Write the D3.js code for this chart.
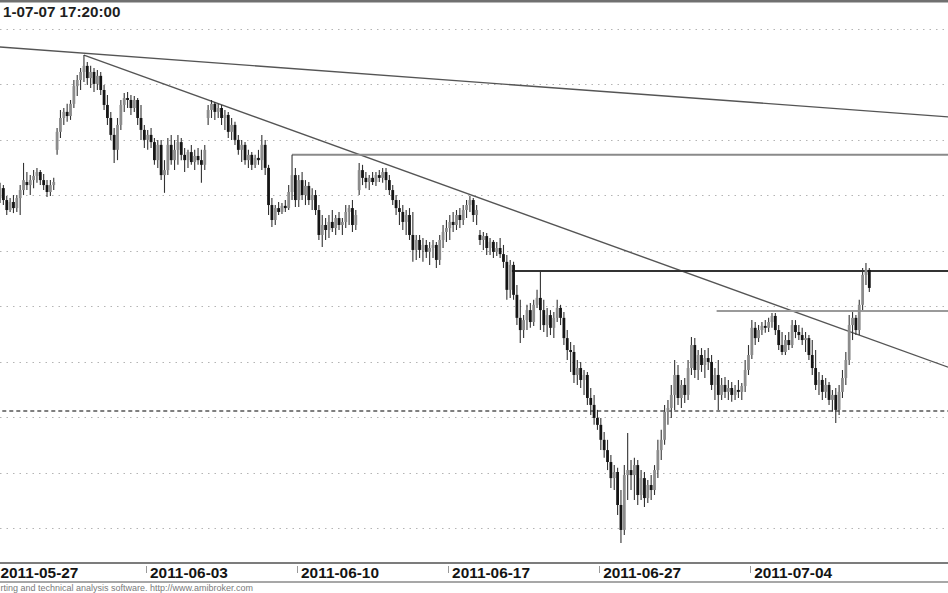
<!DOCTYPE html>
<html><head><meta charset="utf-8">
<script src="https://cdn.jsdelivr.net/npm/d3@7"></script>
<style>body{margin:0;background:#fff}svg{display:block;font-family:"Liberation Sans",Arial,sans-serif}</style>
</head><body>
<svg id="chart" width="948" height="593"></svg>
<script>
// ---- data ----
const title = "1-07-07 17:20:00";   // visible part of the (cropped) chart title
const footer = "rting and technical analysis software. http://www.amibroker.com"; // visible part of footer
const sessions = ["2011-05-27","2011-05-30","2011-05-31","2011-06-01","2011-06-02","2011-06-03","2011-06-06","2011-06-07","2011-06-08","2011-06-09","2011-06-10","2011-06-13","2011-06-14","2011-06-15","2011-06-16","2011-06-17","2011-06-20","2011-06-21","2011-06-22","2011-06-24","2011-06-27","2011-06-28","2011-06-29","2011-06-30","2011-07-01","2011-07-04","2011-07-05","2011-07-06","2011-07-07"];
const barsPerSession = 9;
const tickSessions = [0,5,10,15,20,25];
const tickLabels = ["2011-05-27","2011-06-03","2011-06-10","2011-06-17","2011-06-27","2011-07-04"];
const gridPrices = [2700,2720,2740,2760,2780,2800,2820,2840,2860,2880];
// [open, high, low, close] per bar
const candles = [
[2820.1,2822.6,2816.5,2819.0],[2819.0,2824.5,2817.2,2822.6],[2822.6,2823.7,2816.5,2818.3],[2818.3,2819.8,2812.9,2814.7],[2814.7,2819.0,2814.0,2817.6],[2817.6,2820.1,2813.6,2815.4],[2815.4,2820.1,2814.0,2819.0],[2819.0,2823.7,2812.9,2821.9],[2821.9,2831.7,2820.1,2825.5],
[2824.8,2828.4,2821.9,2823.7],[2823.7,2827.3,2820.1,2825.5],[2825.5,2829.1,2822.6,2827.0],[2827.0,2829.9,2824.5,2828.4],[2828.4,2829.1,2823.7,2825.5],[2825.5,2827.7,2821.9,2823.7],[2823.7,2825.5,2819.4,2821.2],[2821.2,2825.5,2819.8,2823.7],[2823.7,2826.3,2821.9,2824.8],
[2836.4,2844.3,2834.6,2842.9],[2842.9,2850.8,2840.7,2847.9],[2847.9,2851.5,2845.4,2850.1],[2850.1,2853.0,2846.5,2848.6],[2848.6,2854.4,2847.2,2853.0],[2853.0,2861.6,2851.5,2859.4],[2859.4,2863.4,2855.8,2861.6],[2861.6,2865.9,2858.0,2864.5],[2864.5,2870.6,2860.9,2866.7],
[2866.7,2868.1,2859.8,2862.3],[2862.3,2866.7,2858.7,2864.5],[2864.5,2865.9,2857.3,2860.2],[2860.2,2865.2,2858.0,2863.1],[2863.1,2864.5,2856.2,2858.0],[2858.0,2859.8,2850.8,2852.6],[2852.6,2856.2,2845.4,2847.9],[2847.9,2850.1,2840.0,2841.8],[2841.8,2844.3,2831.7,2836.4],
[2836.4,2847.9,2832.7,2845.4],[2845.4,2854.4,2843.6,2852.6],[2852.6,2856.9,2850.1,2855.1],[2855.1,2857.3,2851.5,2854.4],[2854.4,2856.2,2849.0,2851.5],[2851.5,2855.8,2850.1,2854.4],[2854.4,2855.1,2845.4,2847.9],[2847.9,2852.6,2840.0,2843.6],[2843.6,2845.4,2837.1,2840.0],
[2840.0,2843.6,2836.4,2841.8],[2841.8,2844.3,2837.1,2839.2],[2839.2,2840.7,2831.0,2832.7],[2832.7,2840.0,2829.9,2838.2],[2838.2,2840.0,2825.5,2827.3],[2827.3,2832.7,2820.9,2829.1],[2829.1,2840.7,2827.3,2838.2],[2838.2,2841.8,2831.0,2832.7],[2832.7,2840.0,2829.1,2836.4],
[2836.4,2841.8,2831.0,2839.2],[2839.2,2840.7,2832.7,2834.6],[2834.6,2837.1,2828.4,2832.7],[2832.7,2836.4,2829.9,2835.6],[2835.6,2838.2,2831.0,2832.0],[2832.0,2836.4,2829.1,2834.2],[2834.2,2837.1,2831.0,2832.7],[2832.7,2836.4,2824.5,2831.0],[2831.0,2838.2,2829.1,2836.4],
[2847.9,2852.6,2845.4,2850.8],[2850.8,2854.4,2847.9,2853.0],[2853.0,2853.7,2847.2,2850.1],[2850.1,2853.0,2847.9,2851.5],[2851.5,2852.6,2845.4,2847.9],[2847.9,2850.8,2843.6,2849.0],[2849.0,2850.1,2840.7,2842.9],[2842.9,2847.9,2840.0,2845.4],[2845.4,2846.5,2838.2,2840.0],
[2840.0,2841.8,2834.6,2836.4],[2836.4,2840.0,2832.0,2838.2],[2838.2,2839.2,2831.0,2832.7],[2832.7,2836.4,2829.9,2834.6],[2834.6,2835.6,2829.1,2831.0],[2831.0,2834.6,2829.9,2833.5],[2833.5,2836.4,2831.0,2832.7],[2832.7,2841.8,2829.1,2838.2],[2838.2,2840.0,2827.3,2829.9],
[2829.9,2831.0,2812.9,2816.5],[2816.5,2819.0,2808.6,2811.1],[2811.1,2816.5,2809.3,2815.4],[2815.4,2817.6,2812.9,2814.0],[2814.0,2817.2,2813.3,2816.2],[2816.2,2818.3,2814.0,2815.4],[2815.4,2823.7,2814.7,2821.2],[2821.2,2834.6,2818.3,2827.3],[2827.3,2829.9,2815.8,2818.3],
[2818.3,2827.3,2815.8,2825.5],[2825.5,2828.4,2818.3,2820.1],[2820.1,2825.5,2816.5,2823.4],[2823.4,2824.8,2816.5,2818.3],[2818.3,2822.6,2814.7,2820.1],[2820.1,2821.9,2812.9,2814.7],[2814.7,2816.5,2803.9,2805.7],[2805.7,2812.9,2801.4,2809.3],[2809.3,2811.8,2803.9,2807.5],
[2807.5,2812.9,2804.6,2810.4],[2810.4,2814.7,2806.8,2808.2],[2808.2,2812.9,2805.7,2811.8],[2811.8,2814.0,2807.5,2809.3],[2809.3,2811.8,2805.7,2810.4],[2810.4,2816.5,2808.2,2814.0],[2814.0,2816.5,2809.3,2815.4],[2815.4,2818.3,2806.8,2809.3],[2809.3,2814.7,2807.5,2812.9],
[2821.9,2831.7,2820.1,2829.1],[2829.1,2831.0,2823.7,2826.3],[2826.3,2828.4,2822.6,2824.8],[2824.8,2827.3,2821.9,2826.3],[2826.3,2828.4,2823.7,2824.8],[2824.8,2828.4,2823.4,2827.3],[2827.3,2829.1,2824.8,2826.3],[2826.3,2829.9,2824.5,2828.4],[2828.4,2829.9,2821.9,2825.5],
[2825.5,2827.3,2820.1,2821.9],[2821.9,2823.7,2816.5,2818.3],[2818.3,2820.1,2812.9,2815.4],[2815.4,2818.3,2809.3,2814.0],[2814.0,2816.5,2807.5,2810.4],[2810.4,2814.7,2805.7,2812.9],[2812.9,2815.4,2803.9,2805.7],[2805.7,2814.0,2796.0,2800.3],[2800.3,2805.7,2796.7,2803.9],
[2803.9,2805.7,2797.4,2800.3],[2800.3,2804.6,2796.0,2802.1],[2802.1,2803.9,2797.4,2799.6],[2799.6,2803.2,2794.9,2801.0],[2801.0,2803.9,2797.4,2802.1],[2802.1,2803.2,2793.8,2796.7],[2796.7,2805.7,2794.9,2803.9],[2803.9,2809.3,2801.0,2806.8],[2806.8,2811.1,2803.2,2808.2],
[2808.2,2812.9,2803.9,2810.4],[2810.4,2814.0,2806.8,2809.3],[2809.3,2814.7,2807.5,2812.9],[2812.9,2815.4,2808.2,2811.1],[2811.1,2816.5,2809.3,2814.7],[2814.7,2818.3,2811.8,2816.5],[2816.5,2819.8,2814.0,2818.3],[2818.3,2819.0,2810.4,2812.9],[2812.9,2816.5,2809.3,2814.7],
[2805.7,2807.5,2802.1,2803.9],[2803.9,2806.8,2800.3,2805.3],[2805.3,2806.4,2798.5,2801.0],[2801.0,2804.6,2798.5,2803.2],[2803.2,2803.9,2797.4,2799.6],[2799.6,2803.2,2798.1,2801.0],[2801.0,2804.6,2797.4,2798.8],[2798.8,2802.1,2793.8,2796.0],[2796.0,2798.5,2782.3,2785.9],
[2785.9,2796.7,2783.0,2794.9],[2794.9,2796.0,2782.3,2784.1],[2784.1,2787.7,2773.2,2775.8],[2775.8,2782.3,2766.7,2771.4],[2771.4,2776.8,2768.5,2775.0],[2775.0,2780.5,2771.4,2778.6],[2778.6,2781.2,2772.2,2774.3],[2774.3,2782.3,2772.9,2780.5],[2780.5,2785.9,2779.4,2783.0],
[2783.0,2793.1,2771.4,2778.6],[2778.6,2782.3,2770.7,2773.2],[2773.2,2779.4,2768.9,2776.8],[2776.8,2778.6,2769.6,2772.2],[2772.2,2777.9,2768.5,2775.8],[2775.8,2782.3,2774.3,2779.4],[2779.4,2780.5,2773.2,2775.8],[2775.8,2777.9,2766.0,2768.5],[2768.5,2771.4,2760.6,2764.2],
[2764.2,2767.1,2756.3,2763.5],[2763.5,2766.0,2752.3,2755.2],[2755.2,2760.6,2751.6,2757.7],[2757.7,2759.9,2750.5,2753.4],[2753.4,2757.0,2748.0,2755.2],[2755.2,2756.3,2744.4,2746.9],[2746.9,2750.5,2740.8,2744.4],[2744.4,2748.0,2737.2,2739.7],[2739.7,2742.6,2735.4,2737.2],
[2737.2,2739.7,2728.1,2731.8],[2731.8,2734.6,2725.3,2728.1],[2728.1,2731.8,2720.9,2723.8],[2723.8,2726.3,2714.4,2718.0],[2718.0,2722.7,2713.7,2720.2],[2720.2,2721.7,2704.7,2708.3],[2708.3,2713.7,2694.6,2699.3],[2699.3,2722.7,2697.5,2719.1],[2719.1,2734.3,2710.1,2720.9],
[2720.9,2724.5,2713.7,2719.1],[2719.1,2725.3,2710.1,2722.7],[2722.7,2724.5,2708.3,2711.9],[2711.9,2720.9,2710.1,2718.0],[2718.0,2720.2,2707.6,2710.8],[2710.8,2717.3,2709.0,2715.5],[2715.5,2719.1,2710.1,2713.7],[2713.7,2722.7,2711.9,2720.9],[2720.9,2731.8,2718.0,2728.1],
[2728.1,2735.4,2724.5,2731.8],[2731.8,2744.4,2730.0,2741.9],[2741.9,2746.2,2737.2,2743.3],[2743.3,2751.6,2739.7,2748.0],[2748.0,2760.6,2742.6,2755.2],[2755.2,2758.8,2744.4,2746.9],[2746.9,2753.4,2743.3,2751.6],[2751.6,2754.1,2745.1,2748.0],[2748.0,2760.6,2746.2,2757.7],
[2757.7,2768.9,2755.2,2766.0],[2766.0,2768.5,2754.1,2757.0],[2757.0,2764.2,2753.4,2762.4],[2762.4,2764.9,2756.3,2758.8],[2758.8,2764.2,2754.1,2761.3],[2761.3,2764.9,2757.0,2759.9],[2759.9,2762.4,2749.8,2751.6],[2751.6,2757.7,2746.2,2755.2],[2755.2,2760.6,2742.6,2748.0],
[2748.0,2754.1,2746.2,2751.6],[2751.6,2754.5,2746.9,2749.1],[2749.1,2753.4,2746.2,2750.5],[2750.5,2752.7,2745.5,2748.0],[2748.0,2751.6,2746.2,2749.8],[2749.8,2753.4,2746.9,2749.1],[2749.1,2752.3,2746.2,2751.2],[2751.2,2760.6,2749.1,2757.0],[2757.0,2766.0,2755.2,2762.4],
[2762.4,2775.0,2761.0,2772.2],[2772.2,2774.3,2766.0,2768.5],[2768.5,2773.2,2767.1,2771.4],[2771.4,2774.3,2769.6,2772.9],[2772.9,2775.0,2770.4,2772.2],[2772.2,2775.8,2770.7,2774.3],[2774.3,2777.6,2772.2,2776.5],[2776.5,2777.6,2769.6,2771.4],[2771.4,2773.2,2764.2,2766.0],
[2766.0,2770.7,2762.4,2763.5],[2763.5,2769.6,2762.4,2767.8],[2767.8,2770.7,2764.2,2766.0],[2766.0,2775.0,2764.9,2773.2],[2773.2,2775.0,2768.5,2770.7],[2770.7,2773.2,2767.8,2769.6],[2769.6,2772.2,2766.0,2767.8],[2767.8,2770.7,2763.5,2768.5],[2768.5,2769.6,2760.6,2762.4],
[2762.4,2767.8,2755.2,2757.7],[2757.7,2764.2,2749.8,2751.6],[2751.6,2756.3,2748.0,2753.4],[2753.4,2755.2,2746.2,2749.1],[2749.1,2754.1,2746.9,2751.6],[2751.6,2752.7,2744.4,2746.2],[2746.2,2749.8,2741.9,2748.0],[2748.0,2750.5,2737.9,2742.6],[2742.6,2751.6,2740.8,2749.1],
[2749.1,2757.0,2746.9,2754.1],[2754.1,2763.5,2751.6,2760.6],[2760.6,2776.8,2758.8,2773.2],[2773.2,2777.9,2767.8,2775.8],[2775.8,2776.8,2769.6,2771.4],[2771.4,2782.3,2769.6,2780.5],[2780.5,2793.8,2778.6,2791.3],[2791.3,2795.6,2787.7,2793.1],[2793.1,2793.8,2785.1,2786.6]
];
// drawn study lines: start/end as (bar index, price)
const lineStartBar   = [-2, 26.5, 88.5, 154, 215, -2];
const lineStartPrice = [2873.8, 2870.6, 2834.6, 2792.7, 2778.3, 2742.2];
const lineEndBar     = [284, 284, 284, 284, 284, 284];
const lineEndPrice   = [2848.3, 2758.0, 2834.6, 2792.7, 2778.3, 2742.2];

// ---- drawing ----
const W = 948, H = 593;
const svg = d3.select("#chart");
const nBars = sessions.length * barsPerSession;
const x = d3.scaleLinear().domain([0, nBars]).range([-5, 871]);
const y = d3.scaleLinear().domain([2700, 2880]).range([528, 29]);

svg.append("rect").attr("width", W).attr("height", H).attr("fill", "#fff");
svg.append("rect").attr("x", 0).attr("y", 0).attr("width", W).attr("height", 2.5).attr("fill", "#707070");

// grid
svg.append("g").selectAll("line").data(gridPrices).join("line")
  .attr("x1", 0).attr("x2", W)
  .attr("y1", d => Math.round(y(d)) + 0.5).attr("y2", d => Math.round(y(d)) + 0.5)
  .attr("stroke", "#b4b4b4").attr("stroke-width", 1).attr("stroke-dasharray", "1.5,5");

// study lines
const lineStyles = [
  {c: "#555", w: 1.4, dash: null},
  {c: "#555", w: 1.4, dash: null},
  {c: "#8a8a8a", w: 2, dash: null},
  {c: "#333", w: 2, dash: null},
  {c: "#9a9a9a", w: 2, dash: null},
  {c: "#555", w: 1.4, dash: "4,3"}
];
svg.append("g").selectAll("line").data(d3.range(lineStartBar.length)).join("line")
  .attr("x1", i => x(lineStartBar[i])).attr("y1", i => y(lineStartPrice[i]))
  .attr("x2", i => x(lineEndBar[i])).attr("y2", i => y(lineEndPrice[i]))
  .attr("stroke", i => lineStyles[i].c).attr("stroke-width", i => lineStyles[i].w)
  .attr("stroke-dasharray", i => lineStyles[i].dash);

// candles
const cg = svg.append("g");
const bw = 2.8;
cg.selectAll("line").data(candles).join("line")
  .attr("x1", (d, i) => x(i + 0.5)).attr("x2", (d, i) => x(i + 0.5))
  .attr("y1", d => y(d[1])).attr("y2", d => y(d[2]))
  .attr("stroke", "#333").attr("stroke-width", 1.1);
cg.selectAll("rect").data(candles).join("rect")
  .attr("x", (d, i) => x(i + 0.5) - bw / 2)
  .attr("width", bw)
  .attr("y", d => y(Math.max(d[0], d[3])))
  .attr("height", d => Math.max(1, Math.abs(y(d[0]) - y(d[3]))))
  .attr("fill", d => d[3] >= d[0] ? "#8c8c8c" : "#151515");

// title
svg.append("text").attr("x", 3).attr("y", 16.5)
  .attr("font-size", 15.2).attr("font-weight", "bold").attr("fill", "#1e1e1e").text(title);

// x axis band
svg.append("line").attr("x1", 0).attr("x2", W).attr("y1", 563).attr("y2", 563).attr("stroke", "#7c7c7c").attr("stroke-width", 2);
svg.append("line").attr("x1", 0).attr("x2", W).attr("y1", 582).attr("y2", 582).attr("stroke", "#8a8a8a").attr("stroke-width", 1.5);
const ax = svg.append("g");
ax.selectAll("line").data(tickSessions).join("line")
  .attr("x1", s => Math.round(x(s * barsPerSession)) + 0.5).attr("x2", s => Math.round(x(s * barsPerSession)) + 0.5)
  .attr("y1", 566).attr("y2", 573).attr("stroke", "#999").attr("stroke-width", 1);
ax.selectAll("text").data(tickSessions).join("text")
  .attr("x", s => Math.max(0.5, x(s * barsPerSession) + 4)).attr("y", 577.5)
  .attr("font-size", 15.4).attr("font-weight", "bold").attr("fill", "#141414")
  .text((s, i) => tickLabels[i]);

// footer
svg.append("text").attr("x", 0.5).attr("y", 591)
  .attr("font-size", 9).attr("fill", "#7a7a7a").text(footer);
</script>
</body></html>
